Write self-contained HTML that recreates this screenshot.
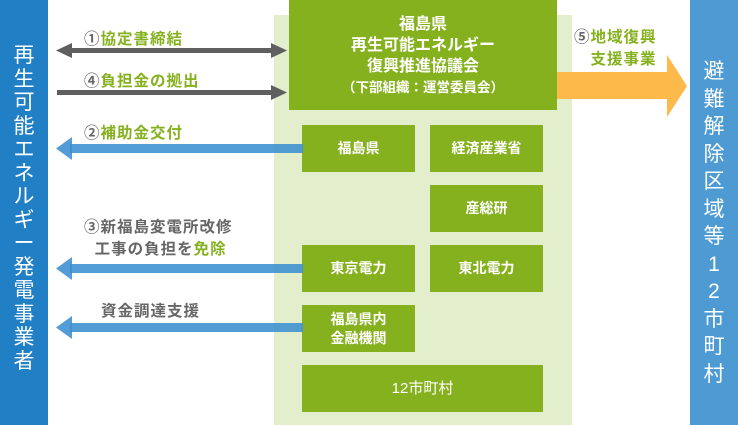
<!DOCTYPE html>
<html><head><meta charset="utf-8"><style>
body{margin:0;width:738px;height:425px;position:relative;overflow:hidden;background:#fff;font-family:"Liberation Sans","Noto Sans CJK JP",sans-serif;}
div{position:absolute;box-sizing:border-box;}
.bx{background:#86b11f;color:#fff;font-weight:bold;font-size:14px;display:flex;align-items:center;justify-content:center;text-align:center;line-height:19px;}
.lb{font-size:15.5px;font-weight:bold;color:#666;white-space:nowrap;letter-spacing:1px;}
.g{color:#86b11f;}
.vt{color:#fff;font-size:21px;text-align:center;}
</style></head><body>
<div style="left:0;top:0;width:48px;height:425px;background:#217fc5;"></div>
<div class="vt" style="left:0;top:44px;width:48px;line-height:23.5px;">再<br>生<br>可<br>能<br>エ<br>ネ<br>ル<br>ギ<br>ー<br>発<br>電<br>事<br>業<br>者</div>
<div style="left:690px;top:0;width:48px;height:425px;background:#4e9bd3;"></div>
<div class="vt" style="left:690px;top:58px;width:48px;line-height:27.5px;">避<br>難<br>解<br>除<br>区<br>域<br>等<br>1<br>2<br>市<br>町<br>村</div>
<div style="left:274px;top:15px;width:298px;height:410px;background:#e3eecc;"></div>
<div class="bx" style="left:289px;top:0;width:268px;height:110px;font-size:16px;line-height:21px;flex-direction:column;padding-top:2px;"><span>福島県<br>再生可能エネルギー<br>復興推進協議会</span><span style="font-size:13.5px;line-height:22px;">（下部組織：運営委員会）</span></div>
<div class="bx" style="left:302px;top:125px;width:113px;height:47px;">福島県</div>
<div class="bx" style="left:430px;top:125px;width:113px;height:47px;">経済産業省</div>
<div class="bx" style="left:430px;top:185px;width:113px;height:47px;">産総研</div>
<div class="bx" style="left:302px;top:245px;width:113px;height:47px;">東京電力</div>
<div class="bx" style="left:430px;top:245px;width:113px;height:47px;">東北電力</div>
<div class="bx" style="left:302px;top:305px;width:113px;height:47px;">福島県内<br>金融機関</div>
<div class="bx" style="left:302px;top:365px;width:241px;height:47px;font-weight:normal;font-size:15px;">12市町村</div>
<svg style="position:absolute;left:0;top:0" width="738" height="425">
<g fill="#5f5f5f">
<rect x="68" y="48" width="208" height="5"/><polygon points="56,50.5 72,43 72,58"/><polygon points="287,50.5 271,43 271,58"/>
<rect x="57" y="90" width="219" height="5"/><polygon points="287,92.5 271,85 271,100"/>
</g>
<g fill="#3b8fd0" fill-opacity="0.88">
<rect x="70" y="144" width="233" height="9"/><polygon points="56,148.5 72,137 72,160"/>
<rect x="70" y="264" width="233" height="9"/><polygon points="56,268.5 72,257 72,280"/>
<rect x="70" y="323" width="233" height="9"/><polygon points="56,327.5 72,316 72,339"/>
</g>
<polygon fill="#fdb94a" points="557,72 667,72 667,55 687,86 667,117 667,99 557,99"/>
</svg>
<div class="lb" style="left:84px;top:27px;"><span style="color:#666">①</span><span class="g">協定書締結</span></div>
<div class="lb" style="left:84px;top:69px;"><span style="color:#666">④</span><span class="g">負担金の拠出</span></div>
<div class="lb" style="left:84px;top:121px;"><span style="color:#666">②</span><span class="g">補助金交付</span></div>
<div class="lb" style="left:84px;top:217px;line-height:22px;">③新福島変電所改修<br>&nbsp;&nbsp;工事の負担を<span class="g">免除</span></div>
<div class="lb" style="left:101px;top:299px;">資金調達支援</div>
<div class="lb" style="left:574px;top:27px;line-height:22px;text-align:right;"><span style="color:#666">⑤</span><span class="g">地域復興<br>支援事業</span></div>
</body></html>
